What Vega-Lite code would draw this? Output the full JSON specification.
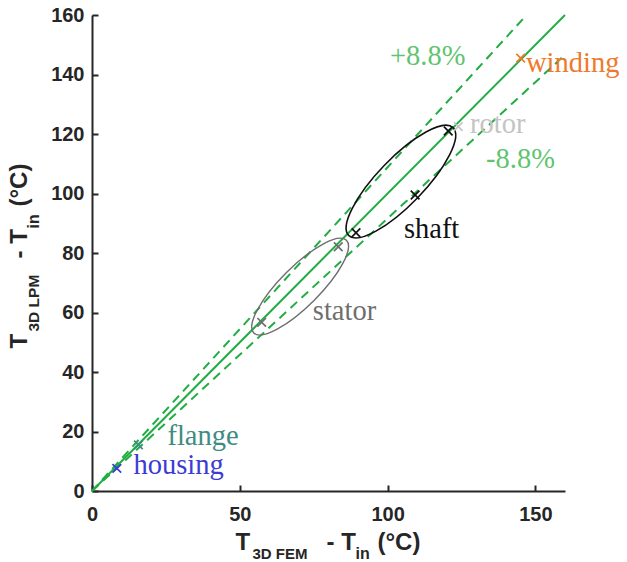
{
  "$schema": "https://vega.github.io/schema/vega-lite/v6.json",
  "width": 473,
  "height": 476,
  "autosize": "none",
  "padding": {"left": 92, "top": 15, "right": 62, "bottom": 71},
  "background": "white",
  "config": {
    "view": {"stroke": null},
    "axis": {
      "grid": false, "domain": false, "ticks": false, "labels": false,
      "titleFont": "Liberation Sans", "titleFontWeight": "bold", "titleFontSize": 24,
      "titleColor": "#262626", "titleAlign": "left", "titleBaseline": "alphabetic",
      "labelFont": "Liberation Sans", "labelFontWeight": "bold", "labelFontSize": 20,
      "labelColor": "#262626", "labelFlush": false, "labelOverlap": false,
      "domainColor": "#262626", "domainWidth": 2, "tickColor": "#262626", "tickWidth": 2
    },
    "axisX": {"titleAngle": 0},
    "axisY": {"titleAngle": 270}
  },
  "datasets": {
    "diag": [{"x": 0, "y": 0}, {"x": 160, "y": 160}],
    "bands": [
      {"band": "+8.8%", "x": 0, "y": 0}, {"band": "+8.8%", "x": 147, "y": 160},
      {"band": "-8.8%", "x": 0, "y": 0}, {"band": "-8.8%", "x": 160, "y": 146.6}
    ],
    "shaftEllipse": [{"part": "shaft", "x": 104.5, "y": 104}],
    "statorEllipse": [{"part": "stator", "x": 70.4, "y": 68.7}],
    "markers": [
      {"part": "housing", "x": 8.4, "y": 7.6},
      {"part": "flange", "x": 15.7, "y": 15.5},
      {"part": "stator", "x": 57.4, "y": 56.7},
      {"part": "stator", "x": 83.3, "y": 82.1},
      {"part": "shaft", "x": 89.3, "y": 86.8},
      {"part": "shaft", "x": 109.3, "y": 99.5},
      {"part": "shaft", "x": 120.5, "y": 121},
      {"part": "rotor", "x": 123.9, "y": 122.5},
      {"part": "winding", "x": 145, "y": 145.5}
    ],
    "labels": [
      {"part": "+8.8%", "x": 100.8, "y": 143.2},
      {"part": "winding", "x": 146.8, "y": 140.9},
      {"part": "rotor", "x": 127.9, "y": 120.4},
      {"part": "-8.8%", "x": 133.3, "y": 108.5},
      {"part": "shaft", "x": 105.5, "y": 84.9},
      {"part": "stator", "x": 74.7, "y": 57.5},
      {"part": "flange", "x": 25.5, "y": 15.5},
      {"part": "housing", "x": 14.0, "y": 5.7}
    ]
  },
  "resolve": {"axis": {"x": "independent", "y": "independent"}},
  "layer": [
    {
      "data": {"name": "diag"},
      "mark": {"type": "line", "color": "#22ad44", "strokeWidth": 2},
      "encoding": {
        "x": {"field": "x", "type": "quantitative", "scale": {"domain": [0, 160], "nice": false},
          "axis": {"orient": "bottom", "values": [0, 50, 100, 150], "domain": true, "labels": true,
            "labelBaseline": "alphabetic", "labelPadding": 29,
            "title": "T", "titleX": 143, "titleY": 58}},
        "y": {"field": "y", "type": "quantitative", "scale": {"domain": [0, 160], "nice": false},
          "axis": {"orient": "left", "values": [0, 20, 40, 60, 80, 100, 120, 140, 160], "domain": true, "labels": true,
            "labelPadding": 8,
            "title": "T", "titleX": -66, "titleY": 333}}
      }
    },
    {
      "data": {"name": "bands"},
      "mark": {"type": "line", "color": "#22ad44", "strokeWidth": 2, "strokeDash": [9, 6]},
      "encoding": {
        "detail": {"field": "band"},
        "x": {"field": "x", "type": "quantitative", "scale": {"domain": [0, 160], "nice": false},
          "axis": {"orient": "bottom", "values": [0, 50, 100, 150], "ticks": true, "tickSize": -6,
            "title": "3D FEM", "titleFontSize": 15, "titleX": 160, "titleY": 67}},
        "y": {"field": "y", "type": "quantitative", "scale": {"domain": [0, 160], "nice": false},
          "axis": {"orient": "left", "values": [0, 20, 40, 60, 80, 100, 120, 140, 160], "ticks": true, "tickSize": -6,
            "title": "3D LPM", "titleFontSize": 15.5, "titleX": -54, "titleY": 316}}
      }
    },
    {
      "data": {"name": "shaftEllipse"},
      "mark": {"type": "point", "filled": false, "opacity": 1, "color": "#111111", "strokeWidth": 1.6,
        "size": 22500, "angle": -46,
        "shape": "M-1,0C-1,-0.1712,-0.5523,-0.31,0,-0.31C0.5523,-0.31,1,-0.1712,1,0C1,0.1712,0.5523,0.31,0,0.31C-0.5523,0.31,-1,0.1712,-1,0Z"},
      "encoding": {
        "x": {"field": "x", "type": "quantitative", "scale": {"domain": [0, 160], "nice": false},
          "axis": {"orient": "bottom", "title": "- T", "titleX": 234, "titleY": 58}},
        "y": {"field": "y", "type": "quantitative", "scale": {"domain": [0, 160], "nice": false},
          "axis": {"orient": "left", "title": "- T", "titleX": -66, "titleY": 243}}
      }
    },
    {
      "data": {"name": "statorEllipse"},
      "mark": {"type": "point", "filled": false, "opacity": 1, "color": "#6e6e6e", "strokeWidth": 1.4,
        "size": 17161, "angle": -45,
        "shape": "M-1,0C-1,-0.1657,-0.5523,-0.3,0,-0.3C0.5523,-0.3,1,-0.1657,1,0C1,0.1657,0.5523,0.3,0,0.3C-0.5523,0.3,-1,0.1657,-1,0Z"},
      "encoding": {
        "x": {"field": "x", "type": "quantitative", "scale": {"domain": [0, 160], "nice": false},
          "axis": {"orient": "bottom", "title": "in", "titleFontSize": 16, "titleX": 263, "titleY": 67}},
        "y": {"field": "y", "type": "quantitative", "scale": {"domain": [0, 160], "nice": false},
          "axis": {"orient": "left", "title": "in", "titleFontSize": 16, "titleX": -54, "titleY": 213}}
      }
    },
    {
      "data": {"name": "markers"},
      "mark": {"type": "point", "filled": false, "opacity": 1, "strokeWidth": 1.7, "size": 75,
        "shape": "M-1,-1L1,1M-1,1L1,-1"},
      "encoding": {
        "x": {"field": "x", "type": "quantitative", "scale": {"domain": [0, 160], "nice": false},
          "axis": {"orient": "bottom", "title": "(°C)", "titleX": 285, "titleY": 58}},
        "y": {"field": "y", "type": "quantitative", "scale": {"domain": [0, 160], "nice": false},
          "axis": {"orient": "left", "title": "(°C)", "titleX": -66, "titleY": 191}},
        "color": {"field": "part", "type": "nominal", "legend": null,
          "scale": {"domain": ["winding", "rotor", "shaft", "stator", "flange", "housing", "+8.8%", "-8.8%"],
            "range": ["#ee7a2c", "#c4c4c4", "#111111", "#6e6e6e", "#3e8c82", "#3c3cd4", "#5fc46f", "#5fc46f"]}}
      }
    },
    {
      "data": {"name": "labels"},
      "mark": {"type": "text", "align": "left", "baseline": "alphabetic", "font": "Liberation Serif", "fontSize": 28.5},
      "encoding": {
        "x": {"field": "x", "type": "quantitative", "scale": {"domain": [0, 160], "nice": false}, "axis": null},
        "y": {"field": "y", "type": "quantitative", "scale": {"domain": [0, 160], "nice": false}, "axis": null},
        "text": {"field": "part"},
        "color": {"field": "part", "type": "nominal", "legend": null}
      }
    }
  ]
}
